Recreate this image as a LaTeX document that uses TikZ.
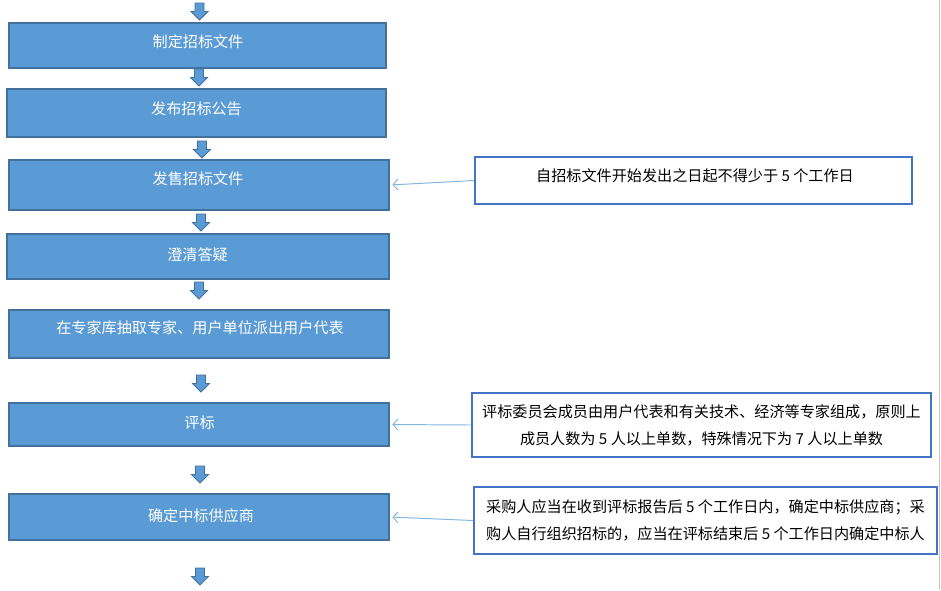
\documentclass[tikz,border=0pt]{standalone}
\usepackage{fontspec}
\setmainfont{Noto Sans CJK SC}
\usetikzlibrary{arrows.meta}
\usetikzlibrary{calc,positioning}

\definecolor{stepfill}{RGB}{91,155,213}
\definecolor{stepedge}{RGB}{65,113,156}
\definecolor{noteedge}{RGB}{68,114,196}
\definecolor{linkblue}{RGB}{130,180,228}

\tikzset{
    stepbox/.style 2 args={draw=stepedge, fill=stepfill, line width=1.6pt, inner sep=0pt,
        minimum width={#1*0.82pt}, minimum height={#2*0.82pt}},
    steptext/.style={text=white, font=\fontsize{12.4}{15}\selectfont, inner sep=0pt},
    notebox/.style 2 args={draw=noteedge, line width=1.6pt, align=center, inner sep=0pt,
        font=\fontsize{12.4}{22}\selectfont, minimum width={#1*0.82pt}, minimum height={#2*0.82pt}},
    link/.style={draw=linkblue, line width=0.8pt, -{Straight Barb[length=4pt,width=9pt]}, shorten >=2pt},
    downarrow/.pic={
        \draw[fill=stepfill, draw=stepedge, line width=0.6pt]
            (-4.5,0) -- (4.5,0) -- (4.5,8.5) -- (8.5,8.5) -- (0,17)
            -- (-8.5,8.5) -- (-4.5,8.5) -- cycle;
    }
}

\begin{document}
\begin{tikzpicture}[>=Stealth, x=0.82pt, y=-0.82pt]

    \useasboundingbox (0,0) rectangle (941,590);

    % margem da página
    \draw[gray!45, line width=0.8pt] (939,0) -- (939,590);

    % etapas
    \node[stepbox={377}{45}] (s1) at (197.5,45.5) {};
    \node[stepbox={379}{48}] (s2) at (196.5,113) {};
    \node[stepbox={380}{50}] (s3) at (199,185) {};
    \node[stepbox={382}{45}] (s4) at (198,256.5) {};
    \node[stepbox={380}{48}] (s5) at (199,334) {};
    \node[stepbox={380}{43}] (s6) at (199,424.5) {};
    \node[stepbox={380}{46}] (s7) at (199,517) {};

    % textos das etapas
    \node[steptext] (l1) at (198,42) {制定招标文件};
    \node[steptext] (l2) at (196.5,108.5) {发布招标公告};
    \node[steptext] (l3) at (198,179) {发售招标文件};
    \node[steptext] (l4) at (197.5,255) {澄清答疑};
    \node[steptext] (l5) at (200,328) {在专家库抽取专家、用户单位派出用户代表};
    \node[steptext] (l6) at (199.5,423) {评标};
    \node[steptext] (l7) at (201,516) {确定中标供应商};

    % setas de bloco
    \foreach \x/\y in {199.5/3, 199/69, 202/141, 201/214, 199/282, 201/375, 200/466, 200/568}
        \pic at (\x,\y) {downarrow};

    % observações
    \node[notebox={437}{47}] (n1) at (693.5,180.5) {};
    \node[font=\fontsize{12.4}{15}\selectfont, inner sep=0pt] (t1) at (695,176)
        {自招标文件开始发出之日起不得少于 5 个工作日};
    \node[notebox={459}{64}] (n2) at (701.5,425)
        {评标委员会成员由用户代表和有关技术、经济等专家组成，原则上\\成员人数为 5 人以上单数，特殊情况下为 7 人以上单数};
    \node[notebox={463}{67}] (n3) at (705.5,520.5)
        {采购人应当在收到评标报告后 5 个工作日内，确定中标供应商；采\\购人自行组织招标的，应当在评标结束后 5 个工作日内确定中标人};

    % ligações
    \draw[link] (n1.west) -- (s3.east);
    \draw[link] (n2.west) -- (s6.east);
    \draw[link] (n3.west) -- (s7.east);

\end{tikzpicture}
\end{document}
